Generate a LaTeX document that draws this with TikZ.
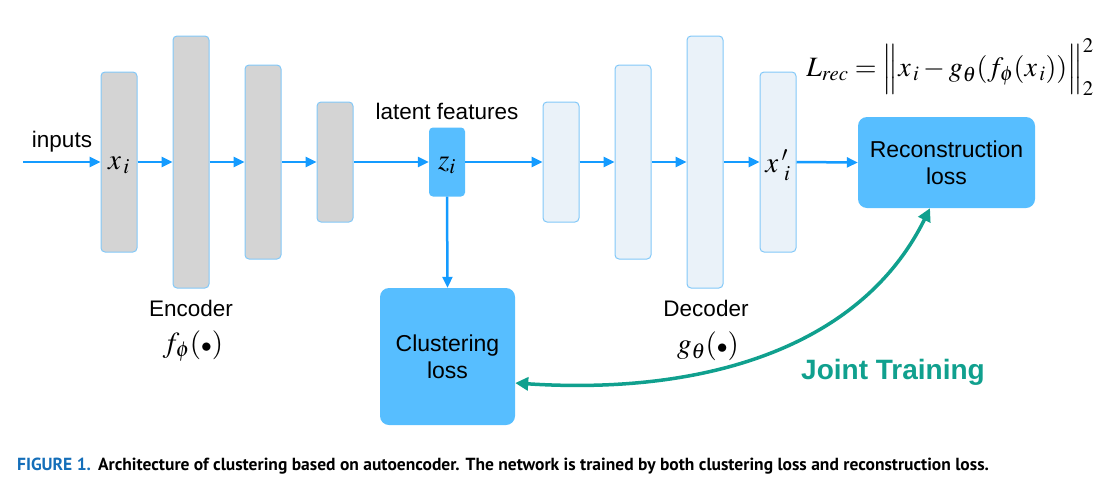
\documentclass[tikz,border=0pt]{standalone}
\usepackage{mathptmx}
\usepackage[no-math]{fontspec}
\setmainfont{Liberation Sans}
\newfontfamily\capfont{PT Sans}
\usetikzlibrary{arrows.meta}
\definecolor{arrowblue}{RGB}{20,155,255}
\definecolor{lossblue}{RGB}{87,190,255}
\definecolor{encfill}{RGB}{212,212,212}
\definecolor{decfill}{RGB}{234,242,249}
\definecolor{boxedge}{RGB}{130,200,248}
\definecolor{teal}{RGB}{16,160,142}
\definecolor{capblue}{RGB}{20,110,185}
\tikzset{
  layer/.style={draw=boxedge, line width=1pt, rounded corners=4pt, minimum width=36pt, inner sep=0pt},
  enc/.style={layer, fill=encfill},
  dec/.style={layer, fill=decfill},
  lossbox/.style={fill=lossblue, draw=none, rounded corners=9pt, align=center, font=\fontsize{23}{27}\selectfont},
  flow/.style={draw=arrowblue, line width=2.5pt, -{Triangle[length=11pt,width=10pt]}},
  lbl/.style={font=\fontsize{22.5}{26}\selectfont, inner sep=0pt},
  mth/.style={font=\fontsize{29}{34}\selectfont, inner sep=0pt},
}
\newcommand{\smalldot}{{\scriptstyle\bullet}}
\begin{document}
\begin{tikzpicture}[x=1pt,y=-1pt]
\useasboundingbox (0,0) rectangle (1103,491);
% encoder
\node[enc, minimum height=180pt] (e1) at (119,162) {};
\node[enc, minimum height=252pt] (e2) at (191,162) {};
\node[enc, minimum height=194pt] (e3) at (263,162) {};
\node[enc, minimum height=120pt] (e4) at (335,162) {};
% latent
\node[draw=none, fill=lossblue, rounded corners=4pt, minimum width=36pt, minimum height=69pt, inner sep=0pt] (z) at (447,162) {};
% decoder
\node[dec, minimum height=120pt] (d1) at (561,162) {};
\node[dec, minimum height=194pt] (d2) at (633,162) {};
\node[dec, minimum height=252pt] (d3) at (705,162) {};
\node[dec, minimum height=180pt] (d4) at (778,162) {};
% losses
\node[lossbox, minimum width=177pt, minimum height=91pt] (rec) at (946.5,162.5) {Reconstruction\\loss};
\node[lossbox, minimum width=135pt, minimum height=137pt] (clu) at (447.5,356.5) {Clustering\\loss};
% math labels inside layers
\node[mth] (xi) at (119,165) {$x_{\,i}$};
\node[mth] (zi) at (447,165) {$z_i$};
\node[mth] (xpi) at (778,165) {$x\,'_{\,i}$};
% text labels
\coordinate (in) at (23,162);
\node[lbl] (inputs) at (62,142) {inputs};
\node[lbl] (latent) at (447,111) {latent features};
\node[lbl] (enclbl) at (191,308) {Encoder};
\node[mth] (f) at (193,346) {$f_\phi(\smalldot)$};
\node[lbl] (declbl) at (706,308) {Decoder};
\node[mth] (g) at (708,346) {$g_\theta(\smalldot)$};
\node[font=\fontsize{28}{34}\selectfont, inner sep=0pt] (form) at (950,67) {$L_{rec}=\Big\|x_{\,i}-g_\theta(f_\phi(x_{\,i}))\Big\|_2^2$};
\node[font=\bfseries\fontsize{28}{32}\selectfont, text=teal, inner sep=0pt] (jt) at (893,372) {Joint Training};
% flow arrows
\draw[flow] (in) -- (e1.west);
\draw[flow] (e1.east) -- (e2.west);
\draw[flow] (e2.east) -- (e3.west);
\draw[flow] (e3.east) -- (e4.west);
\draw[flow] (e4.east) -- (z.west);
\draw[flow] (z.east) -- (d1.west);
\draw[flow] (d1.east) -- (d2.west);
\draw[flow] (d2.east) -- (d3.west);
\draw[flow] (d3.east) -- (d4.west);
\draw[flow] (d4.east) -- (rec.west);
\draw[flow] (z.south) -- (clu.north);
% joint training
\coordinate (rb) at (930,208);
\draw[teal, line width=3.5pt, {Triangle[length=13pt,width=13pt]}-{Triangle[length=13pt,width=13pt]}]
  (clu.east |- 0,383) .. controls (700,395) and (860,350) .. (rec.south -| rb);
% caption
\node[anchor=base west, inner sep=0pt, font=\capfont\bfseries\fontsize{17.5}{20}\selectfont] (cap) at (17,470)
  {\textcolor{capblue}{FIGURE 1.}\hspace{7pt}Architecture of clustering based on autoencoder. The network is trained by both clustering loss and reconstruction loss.};
\end{tikzpicture}
\end{document}
